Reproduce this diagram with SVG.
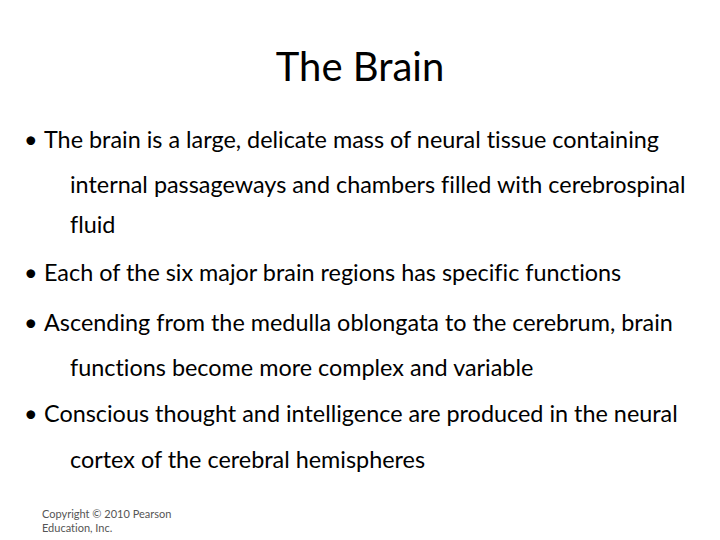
<svg xmlns="http://www.w3.org/2000/svg" width="720" height="540" viewBox="0 0 720 540">
<style>
text{font-family:Lato,"Open Sans",sans-serif;fill:#000;font-variant-ligatures:none}
.t{font-size:40px}
.b{font-size:23.4px}
.c{font-size:11px;fill:#555}
</style>
<rect width="720" height="540" fill="#fff"/>
<g id="title"><text class="t" x="360" y="81" text-anchor="middle">The Brain</text></g>
<g id="bullets" class="b">
<text class="b" x="24" y="148">•</text>
<text class="b" x="44" y="148">The brain is a large, delicate mass of neural tissue containing</text>
<text class="b" x="70" y="193">internal passageways and chambers filled with cerebrospinal</text>
<text class="b" x="70" y="233">fluid</text>
<text class="b" x="24" y="281">•</text>
<text class="b" x="44" y="281">Each of the six major brain regions has specific functions</text>
<text class="b" x="24" y="331">•</text>
<text class="b" x="44" y="331">Ascending from the medulla oblongata to the cerebrum, brain</text>
<text class="b" x="70" y="376">functions become more complex and variable</text>
<text class="b" x="24" y="422">•</text>
<text class="b" x="44" y="422">Conscious thought and intelligence are produced in the neural</text>
<text class="b" x="70" y="468">cortex of the cerebral hemispheres</text>
</g>
<g id="copyright">
<text class="c" x="42" y="518">Copyright © 2010 Pearson</text>
<text class="c" x="42" y="532">Education, Inc.</text>
</g>
</svg>
